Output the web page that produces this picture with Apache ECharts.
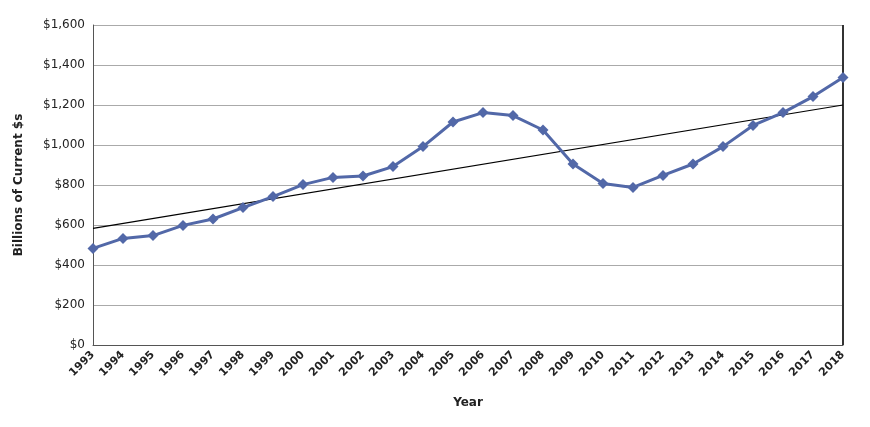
<!DOCTYPE html>
<html>
<head>
<meta charset="utf-8">
<script src="https://cdn.jsdelivr.net/npm/echarts@6/dist/echarts.min.js"></script>
<style>html,body{margin:0;padding:0;background:#fff}</style>
</head>
<body>
<div id="chart" style="width:870px;height:427px"></div>
<script>
var years = ['1993','1994','1995','1996','1997','1998','1999','2000','2001','2002','2003','2004','2005',
  '2006','2007','2008','2009','2010','2011','2012','2013','2014','2015','2016','2017','2018'];
var spending = [483, 533, 547, 598, 630, 687, 742, 802, 838, 845, 892, 992, 1115,
  1162, 1147, 1075, 905, 808, 788, 848, 905, 992, 1098, 1162, 1242, 1338];
// trend line end points
var trendEnds = [['1993', 583], ['2018', 1200]];

var myChart = echarts.init(document.getElementById('chart'));
var font = 'DejaVu Sans';
var option = {
  animation: false,
  grid: { left: 93, right: 27, top: 25, bottom: 82 },
  xAxis: {
    type: 'category',
    boundaryGap: false,
    data: years,
    name: 'Year',
    nameLocation: 'middle',
    nameGap: 52,
    nameTextStyle: { fontFamily: font, fontWeight: 'bold', fontSize: 12, color: '#222' },
    axisLine: { lineStyle: { color: '#555' } },
    axisTick: { show: false },
    axisLabel: { rotate: 45, interval: 0, fontFamily: font, fontWeight: 'bold', fontSize: 11, color: '#222', margin: 8 }
  },
  yAxis: {
    type: 'value',
    min: 0, max: 1600, interval: 200,
    name: 'Billions of Current $s',
    nameLocation: 'middle',
    nameGap: 68,
    nameTextStyle: { fontFamily: font, fontWeight: 'bold', fontSize: 12, color: '#222' },
    axisLine: { show: true, lineStyle: { color: '#555' } },
    splitLine: { lineStyle: { color: '#aaa' } },
    axisLabel: { fontFamily: font, fontSize: 12, color: '#222',
      formatter: function (v) { return '$' + v.toLocaleString('en-US'); } }
  },
  series: [
    {
      type: 'line',
      data: spending,
      symbol: 'diamond',
      symbolSize: 11,
      lineStyle: { color: '#5268a8', width: 3 },
      itemStyle: { color: '#5268a8' },
      z: 3
    },
    {
      type: 'line',
      data: trendEnds,
      symbol: 'none',
      lineStyle: { color: '#000', width: 1.2 },
      z: 2
    },
    {
      // right border of plot area
      type: 'line',
      data: [['2018', 0], ['2018', 1600]],
      symbol: 'none',
      lineStyle: { color: '#333', width: 2 },
      z: 1
    }
  ]
};
myChart.setOption(option);
</script>
</body>
</html>
